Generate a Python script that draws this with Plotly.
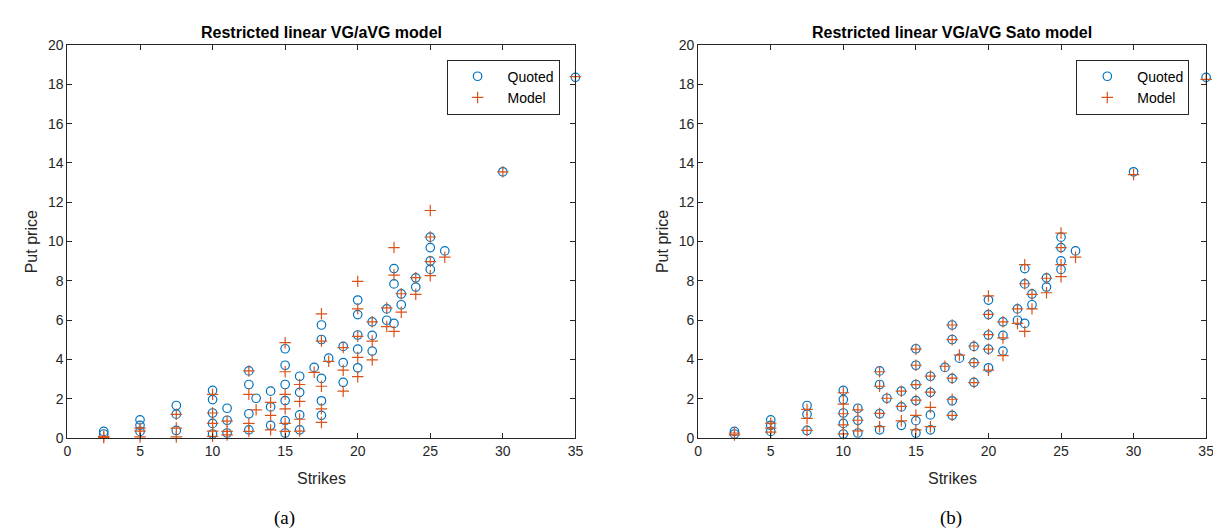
import plotly.graph_objects as go

# ---------------- data ----------------
strikes = [2.5, 2.5,
           5, 5, 5,
           7.5, 7.5, 7.5,
           10, 10, 10, 10, 10,
           11, 11, 11,
           12.5, 12.5, 12.5, 12.5,
           13,
           14, 14, 14,
           15, 15, 15, 15, 15, 15,
           16, 16, 16, 16,
           17,
           17.5, 17.5, 17.5, 17.5, 17.5,
           18,
           19, 19, 19,
           20, 20, 20, 20, 20,
           21, 21, 21,
           22, 22,
           22.5, 22.5, 22.5,
           23, 23,
           24, 24,
           25, 25, 25, 25,
           26,
           30,
           35]

quoted = [0.33, 0.20,
          0.92, 0.64, 0.33,
          1.65, 1.21, 0.38,
          2.42, 1.95, 1.27, 0.74, 0.20,
          1.51, 0.90, 0.25,
          3.41, 2.72, 1.23, 0.41,
          2.02,
          2.38, 1.58, 0.64,
          4.54, 3.70, 2.72, 1.90, 0.88, 0.25,
          3.14, 2.32, 1.17, 0.41,
          3.59,
          5.75, 5.01, 3.03, 1.89, 1.15,
          4.06,
          4.66, 3.83, 2.83,
          7.02, 6.28, 5.24, 4.52, 3.57,
          5.91, 5.22, 4.42,
          6.57, 5.99,
          8.62, 7.84, 5.83,
          7.33, 6.78,
          8.15, 7.68,
          10.22, 9.69, 9.01, 8.58,
          9.52,
          13.55,
          18.36]

model_vg = [0.08, 0.02,
            0.50, 0.35, 0.05,
            1.20, 0.50, 0.05,
            2.22, 1.27, 0.74, 0.35, 0.08,
            0.85, 0.33, 0.15,
            3.41, 2.22, 0.74, 0.33,
            1.43,
            1.81, 1.15, 0.41,
            4.85, 3.37, 2.22, 1.48, 0.74, 0.33,
            2.72, 1.86, 0.95, 0.35,
            3.34,
            6.32, 4.93, 2.63, 1.48, 0.79,
            3.90,
            4.60, 3.45, 2.38,
            7.97, 6.57, 5.17, 4.10, 3.12,
            5.91, 4.93, 3.97,
            6.62, 5.67,
            9.69, 8.29, 5.42,
            7.34, 6.40,
            8.16, 7.31,
            11.58, 10.23, 8.98, 8.26,
            9.20,
            13.55,
            18.40]

model_sato = [0.25, 0.15,
              0.75, 0.50, 0.30,
              1.45, 1.00, 0.38,
              2.30, 1.72, 1.23, 0.66, 0.21,
              1.43, 0.90, 0.36,
              3.37, 2.63, 1.25, 0.57,
              2.02,
              2.38, 1.61, 0.87,
              4.52, 3.70, 2.71, 1.92, 1.15, 0.41,
              3.15, 2.33, 1.56, 0.57,
              3.65,
              5.75, 5.00, 3.04, 1.97, 1.15,
              4.22,
              4.68, 3.83, 2.82,
              7.23, 6.29, 5.26, 4.52, 3.45,
              5.91, 5.09, 4.19,
              6.57, 5.83,
              8.82, 7.85, 5.42,
              7.31, 6.57,
              8.13, 7.39,
              10.43, 9.69, 8.82, 8.21,
              9.20,
              13.41,
              18.26]

titles = ["Restricted linear VG/aVG model", "Restricted linear VG/aVG Sato model"]
captions = ["(a)", "(b)"]
x_ticks = [0, 5, 10, 15, 20, 25, 30, 35]
y_ticks = [0, 2, 4, 6, 8, 10, 12, 14, 16, 18, 20]

# ---------------- layout constants ----------------
W, H = 1221, 532
PLOT_X = [(56, 569), (693, 1206)]
PLOT_Y = (30, 435)
BLUE = "#0072BD"
ORANGE = "#D95319"
AXC = "#262626"
FONT = "Liberation Sans, Arial, Helvetica, sans-serif"

def px(x):
    return x / W

def py(y):
    return 1 - y / H

fig = go.Figure()

models = [model_vg, model_sato]
for i in range(2):
    xa = "x" if i == 0 else "x2"
    ya = "y" if i == 0 else "y2"
    lg = "legend" if i == 0 else "legend2"
    fig.add_trace(go.Scatter(
        x=strikes, y=quoted, mode="markers", name="Quoted",
        xaxis=xa, yaxis=ya, legend=lg,
        marker=dict(symbol="circle-open", size=8.5, color=BLUE, line=dict(width=1.2, color=BLUE)),
        cliponaxis=False))
    fig.add_trace(go.Scatter(
        x=strikes, y=models[i], mode="markers", name="Model",
        xaxis=xa, yaxis=ya, legend=lg,
        marker=dict(symbol="cross-thin-open", size=8.2, color=ORANGE, line=dict(width=1.2, color=ORANGE)),
        cliponaxis=False))

axis_common = dict(showline=True, linecolor=AXC, linewidth=1, mirror="ticks",
                   ticks="inside", ticklen=5, tickcolor=AXC, tickwidth=1,
                   showgrid=False, zeroline=False,
                   tickfont=dict(family=FONT, size=14, color=AXC), fixedrange=True)

for i in range(2):
    x0, x1 = PLOT_X[i]
    xkey = "xaxis" if i == 0 else "xaxis2"
    ykey = "yaxis" if i == 0 else "yaxis2"
    fig.update_layout(**{
        xkey: dict(domain=[px(x0), px(x1)], range=[0, 35], tickvals=x_ticks,
                   anchor="y" if i == 0 else "y2", **axis_common),
        ykey: dict(domain=[py(PLOT_Y[1]), py(PLOT_Y[0])], range=[0, 20], tickvals=y_ticks,
                   anchor="x" if i == 0 else "x2", **axis_common),
    })

annotations = []
legend_x = [553, 1189]
cap_x = [275, 948]
for i in range(2):
    x0, x1 = PLOT_X[i]
    cx = (x0 + x1) / 2
    annotations.append(dict(text="<b>" + titles[i] + "</b>", x=px(cx), y=py(17), xref="paper", yref="paper",
                            showarrow=False, xanchor="center", yanchor="middle",
                            font=dict(family=FONT, size=16, color="#000000")))
    annotations.append(dict(text="Strikes", x=px(cx), y=py(477), xref="paper", yref="paper",
                            showarrow=False, xanchor="center", yanchor="middle",
                            font=dict(family=FONT, size=16, color=AXC)))
    annotations.append(dict(text="Put price", x=px(x0 - 36), y=py((PLOT_Y[0] + PLOT_Y[1]) / 2),
                            xref="paper", yref="paper", textangle=-90,
                            showarrow=False, xanchor="center", yanchor="middle",
                            font=dict(family=FONT, size=16, color=AXC)))
    annotations.append(dict(text=captions[i], x=px(cap_x[i]), y=py(518), xref="paper", yref="paper",
                            showarrow=False, xanchor="center", yanchor="middle",
                            font=dict(family="Liberation Serif, DejaVu Serif, serif", size=19, color="#000000")))

legend_common = dict(bgcolor="white", bordercolor=AXC, borderwidth=1,
                     font=dict(family=FONT, size=14, color="#000000"),
                     xanchor="right", yanchor="top", itemwidth=50,
                     tracegroupgap=0)
fig.update_layout(
    width=W, height=H, margin=dict(l=0, r=0, t=0, b=0),
    paper_bgcolor="white", plot_bgcolor="white",
    annotations=annotations,
    legend=dict(x=px(legend_x[0]), y=py(45), **legend_common),
    legend2=dict(x=px(legend_x[1]), y=py(45), **legend_common),
    showlegend=True,
)

fig.write_html("out.html")
